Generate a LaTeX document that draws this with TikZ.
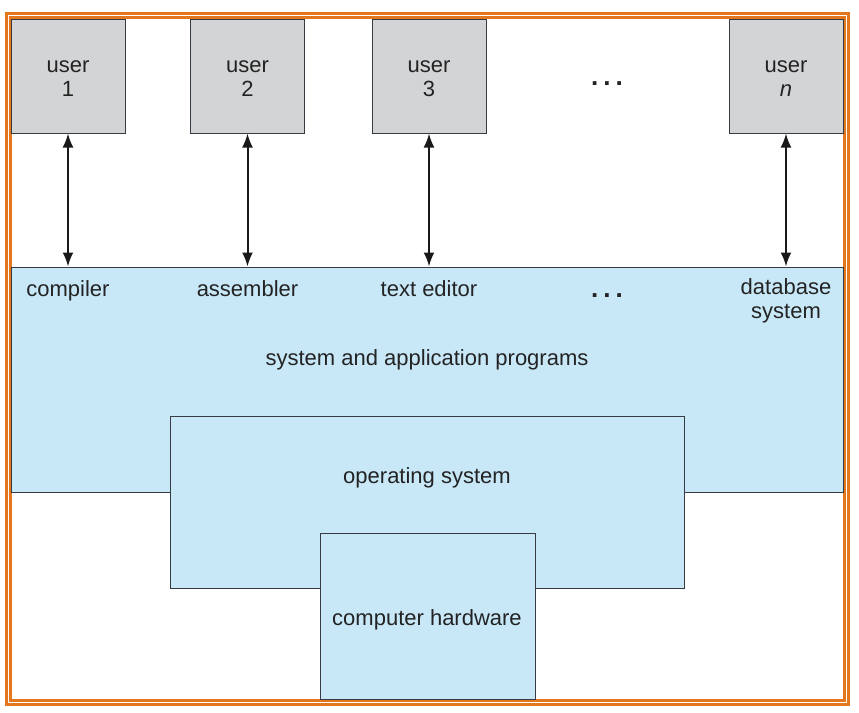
\documentclass[tikz,border=0pt]{standalone}
\usepackage{fontspec}
\setmainfont{Liberation Sans}
\usetikzlibrary{arrows.meta}
\definecolor{ugray}{RGB}{211,212,214}
\definecolor{lblue}{RGB}{200,232,248}
\definecolor{edge}{RGB}{55,60,66}
\definecolor{txt}{RGB}{35,35,35}
\definecolor{frameor}{RGB}{228,118,28}
\begin{document}
\begin{tikzpicture}[x=1pt,y=-1pt,
  every node/.style={font=\fontsize{22}{24}\selectfont, text=txt},
  ubox/.style={draw=edge, fill=ugray, line width=1pt, minimum width=114pt, minimum height=114pt, inner sep=0pt},
  bbox/.style={draw=edge, fill=lblue, line width=1pt, inner sep=0pt},
  lbl/.style={align=center, inner sep=0pt, anchor=base},
  dots/.style={inner sep=0pt, anchor=base, font=\fontsize{26}{26}\bfseries\selectfont},
  conn/.style={draw=black!90, line width=2pt, {Latex[length=14pt,width=11pt]}-{Latex[length=14pt,width=11pt]}}
]
\useasboundingbox (0,0) rectangle (859,712);
% frame
\draw[frameor, line width=3.2pt, double=white, double distance=1.3pt] (8.5,15.5) rectangle (846.5,702.5);
% user boxes
\node[ubox] (u1) at (68,76) {};
\node[ubox] (u2) at (247.5,76) {};
\node[ubox] (u3) at (429,76) {};
\node[ubox] (un) at (786,76) {};
\node[lbl] (t1) at (68,96) {user\\1};
\node[lbl] (t2) at (247.5,96) {user\\2};
\node[lbl] (t3) at (429,96) {user\\3};
\node[lbl] (tn) at (786,96) {user\\\textit{n}};
\node[dots] (dtop) at (607,85) {.\hspace{5pt}.\hspace{5pt}.};
% boxes
\node[bbox, minimum width=832pt, minimum height=225pt] (app) at (427,379.5) {};
\node[bbox, minimum width=514pt, minimum height=172pt] (os) at (427,502) {};
\node[bbox, minimum width=215pt, minimum height=166pt] (hw) at (427.5,616) {};
% labels
\node[lbl] (l1) at (68,296) {compiler};
\node[lbl] (l2) at (247.5,296) {assembler};
\node[lbl] (l3) at (429,296) {text editor};
\node[dots] (dmid) at (607,297) {.\hspace{5pt}.\hspace{5pt}.};
\node[lbl] (l4) at (786,318) {database\\system};
\node[lbl] (lapp) at (427,365) {system and application programs};
\node[lbl] (los) at (427,483) {operating system};
\node[lbl] (lhw) at (427,625) {computer hardware};
% connectors
\draw[conn] (u1.south) -- (u1.south |- app.north);
\draw[conn] (u2.south) -- (u2.south |- app.north);
\draw[conn] (u3.south) -- (u3.south |- app.north);
\draw[conn] (un.south) -- (un.south |- app.north);
\end{tikzpicture}
\end{document}
